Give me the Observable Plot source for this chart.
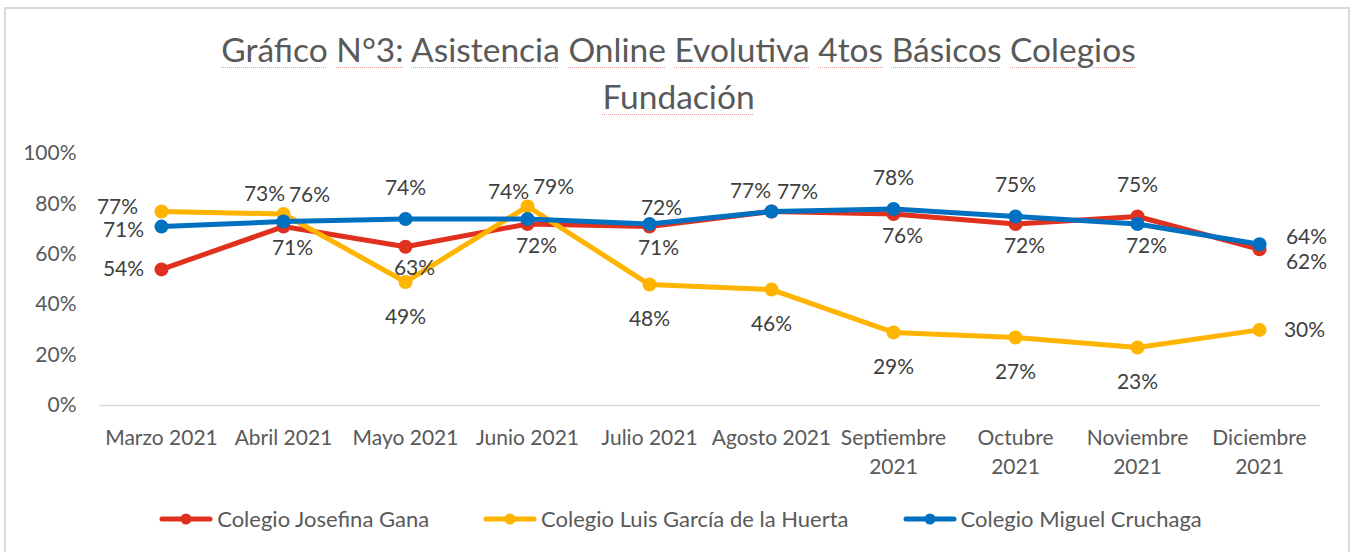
<!DOCTYPE html>
<html>
<head>
<meta charset="utf-8">
<script src="https://cdn.jsdelivr.net/npm/d3@7"></script>
<script src="https://cdn.jsdelivr.net/npm/@observablehq/plot@0.6"></script>
<style>
  html, body { margin: 0; padding: 0; background: #fff; }
  #wrap { position: relative; width: 1353px; height: 552px; overflow: hidden; font-family: Lato, "Open Sans", sans-serif; }
  #frame { position: absolute; left: 4px; top: 7px; width: 1346px; height: 600px; border: 2px solid #d9d9d9; box-sizing: border-box; }
  #title { position: absolute; left: 0; width: 1357px; top: 26px; text-align: center; color: #595959; font-size: 33.5px; line-height: 47px; }
  #title span { text-decoration: underline dotted #e8a0a0; text-underline-offset: 5px; text-decoration-thickness: 1px; }
  #chart { position: absolute; left: 0; top: 120px; }
  #legend { position: absolute; left: 0; width: 1361px; top: 505px; display: flex; justify-content: center; align-items: center; color: #595959; font-size: 22px; }
  .item { display: flex; align-items: center; margin: 0 27px; }
  .item svg { margin-right: 4px; }
</style>
</head>
<body>
<div id="wrap">
  <div id="frame"></div>
  <div id="title"></div>
  <div id="chart"></div>
  <div id="legend"></div>
</div>
<script>
// ---- data ----
const months = ["Marzo 2021", "Abril 2021", "Mayo 2021", "Junio 2021", "Julio 2021", "Agosto 2021", "Septiembre 2021", "Octubre 2021", "Noviembre 2021", "Diciembre 2021"];
const tickLabels = ["Marzo 2021", "Abril 2021", "Mayo 2021", "Junio 2021", "Julio 2021", "Agosto 2021", "Septiembre\n2021", "Octubre\n2021", "Noviembre\n2021", "Diciembre\n2021"];
const seriesNames = ["Colegio Josefina Gana", "Colegio Luis García de la Huerta", "Colegio Miguel Cruchaga"];
const josefinaGana = [0.54, 0.71, 0.63, 0.72, 0.71, 0.77, 0.76, 0.72, 0.75, 0.62];
const luisGarcia = [0.77, 0.76, 0.49, 0.79, 0.48, 0.46, 0.29, 0.27, 0.23, 0.30];
const miguelCruchaga = [0.71, 0.73, 0.74, 0.74, 0.72, 0.77, 0.78, 0.75, 0.72, 0.64];
const yTicks = [0, 0.2, 0.4, 0.6, 0.8, 1.0];
const titleLines = ["Gráfico N°3: Asistencia Online Evolutiva 4tos Básicos Colegios", "Fundación"];

// ---- style config ----
const colors = ["#e0301e", "#ffb400", "#0070c0"];
// label placement codes per series (style, not data)
const placeJosefina = ["L", "b", "b", "b", "b", "al", "b", "b", "A", "RD"];
const placeLuis     = ["LU", "AR", "B", "AR", "B", "B", "B", "B", "B", "R"];
const placeMiguel   = ["LD", "AL", "A", "AL", "ar", "AR", "A", "A", "b", "RU"];
const placeOffsets = {
  L: [-38, 0], LU: [-44, -4], LD: [-38, 4], R: [45, 0], RU: [47, -7], RD: [47, 13],
  A: [0, -31], B: [0, 35], b: [9, 22], AL: [-19, -27], al: [-21, -20], AR: [26, -19], ar: [12, -16]
};

const allValues = [josefinaGana, luisGarcia, miguelCruchaga];
const allPlaces = [placeJosefina, placeLuis, placeMiguel];
const data = [];
seriesNames.forEach((s, si) => {
  months.forEach((m, i) => data.push({series: s, month: m, value: allValues[si][i], place: allPlaces[si][i]}));
});

// title
document.getElementById("title").innerHTML = titleLines
  .map(l => l.split(" ").map(w => `<span>${w}</span>`).join(" "))
  .join("<br>");

const labelMarks = Object.entries(placeOffsets).map(([code, [dx, dy]]) =>
  Plot.text(data.filter(d => d.place === code), {
    x: "month", y: "value", text: d => Math.round(d.value * 100) + "%",
    dx, dy, fill: "#404040", fontSize: 21
  })
);

const seriesMarks = seriesNames.flatMap(s => {
  const rows = data.filter(d => d.series === s);
  return [
    Plot.line(rows, {x: "month", y: "value", stroke: "series", strokeWidth: 5, strokeLinejoin: "round"}),
    Plot.dot(rows, {x: "month", y: "value", fill: "series", r: 7})
  ];
});

const chart = Plot.plot({
  width: 1353,
  height: 360,
  marginTop: 33,
  marginBottom: 75,
  marginLeft: 99,
  marginRight: 33,
  style: {fontFamily: "Lato, 'Open Sans', sans-serif", fontSize: "21px", overflow: "visible", background: "transparent"},
  x: {type: "point", domain: months, padding: 0.5},
  y: {domain: [0, 1]},
  color: {domain: seriesNames, range: colors},
  marks: [
    Plot.ruleY([0], {stroke: "#d9d9d9", strokeWidth: 1.5}),
    Plot.axisY({ticks: yTicks, tickSize: 0, tickPadding: 23, tickFormat: d => Math.round(d * 100) + "%", color: "#595959", fontSize: 21, label: null}),
    Plot.axisX({tickSize: 0, tickPadding: 19, tickFormat: d => tickLabels[months.indexOf(d)], color: "#595959", fontSize: 21, lineHeight: 1.38, label: null}),
    ...seriesMarks,
    ...labelMarks
  ]
});
document.getElementById("chart").appendChild(chart);

// legend
const legend = document.getElementById("legend");
seriesNames.forEach((s, i) => {
  const item = document.createElement("div");
  item.className = "item";
  item.innerHTML = `<svg width="54" height="16"><line x1="3" x2="51" y1="8" y2="8" stroke="${colors[i]}" stroke-width="5" stroke-linecap="round"/><circle cx="27" cy="8" r="5.5" fill="${colors[i]}"/></svg><span>${s}</span>`;
  legend.appendChild(item);
});
</script>
</body>
</html>
